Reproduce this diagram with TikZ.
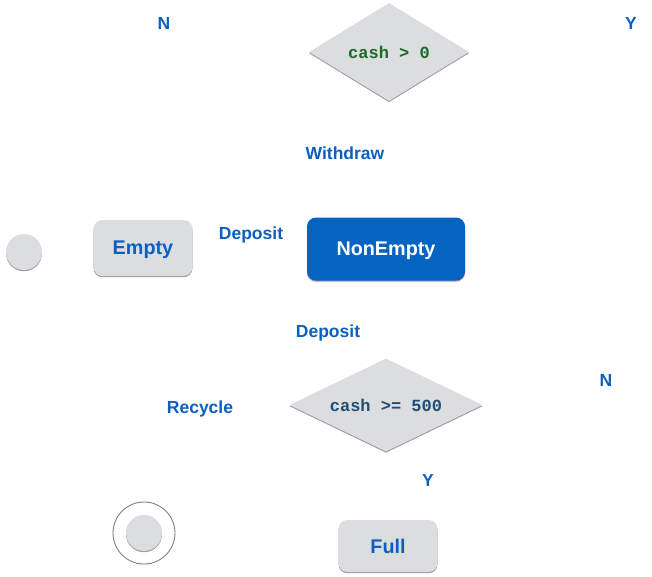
\documentclass[tikz,border=0pt]{standalone}
\usepackage{fontspec}
\setmainfont{Liberation Sans}
\setmonofont{Liberation Mono}
\usetikzlibrary{positioning,shapes.geometric,shadows}

\definecolor{stategray}{HTML}{DCDDDF}
\definecolor{stateblue}{HTML}{0563C1}
\definecolor{labelblue}{HTML}{0B5FC0}
\definecolor{guardgreen}{HTML}{1A6B2A}
\definecolor{guardnavy}{HTML}{1F4E79}
\definecolor{shadowlilac}{HTML}{8E7A9A}

\tikzset{
	edgeshadow/.style={drop shadow={shadow xshift=0pt,shadow yshift=-1.2pt,opacity=0.8,fill=shadowlilac}},
	statebox/.style={rectangle,rounded corners=9pt,fill=stategray,edgeshadow,text depth=0pt,
		minimum width=99pt,minimum height=56pt,text=labelblue,font=\bfseries\fontsize{19.8}{22}\selectfont},
	choicebox/.style={diamond,fill=stategray,edgeshadow,inner sep=0pt,
		font=\ttfamily\bfseries\fontsize{17}{19}\selectfont},
	evlabel/.style={text=labelblue,text depth=0pt,font=\bfseries\fontsize{17.5}{20}\selectfont},
}

\begin{document}
\begin{tikzpicture}[x=1pt,y=-1pt]
	\useasboundingbox (0,0) rectangle (652,576);
	%% first choice
	\node[choicebox,aspect=1.63,minimum width=160pt,minimum height=98pt,text=guardgreen] (cashpos) at (389,52) {cash > 0};
	\node[evlabel] (cashposN) at (164,23) {N};
	\node[evlabel] (cashposY) at (631,23) {Y};
	\node[evlabel] (withdraw) at (345,153) {Withdraw};
	%% states
	\node[circle,fill=stategray,edgeshadow,minimum size=36pt,inner sep=0pt] (init) at (24,252) {};
	\node[statebox] (empty) at (143,248) {Empty};
	\node[evlabel] (depositA) at (251,233) {Deposit};
	\node[statebox,fill=stateblue,text=white,minimum width=158pt,minimum height=63pt] (nonempty) at (386,249) {NonEmpty};
	\node[evlabel] (depositB) at (328,331) {Deposit};
	%% second choice
	\node[choicebox,aspect=2.08,minimum width=193pt,minimum height=93pt,text=guardnavy] (cashfull) at (386,405) {cash >= 500};
	\node[evlabel] (recycle) at (200,407) {Recycle};
	\node[evlabel] (cashfullN) at (606,380) {N};
	\node[evlabel] (cashfullY) at (428,480) {Y};
	%% final
	\node[circle,draw=gray,line width=0.9pt,minimum size=62pt,inner sep=0pt] (final) at (144,533) {};
	\node[circle,fill=stategray,edgeshadow,minimum size=36pt,inner sep=0pt] (finaldot) at (final.center) {};
	\node[statebox,minimum width=99pt,minimum height=52pt] (full) at (388,546) {Full};
\end{tikzpicture}
\end{document}
